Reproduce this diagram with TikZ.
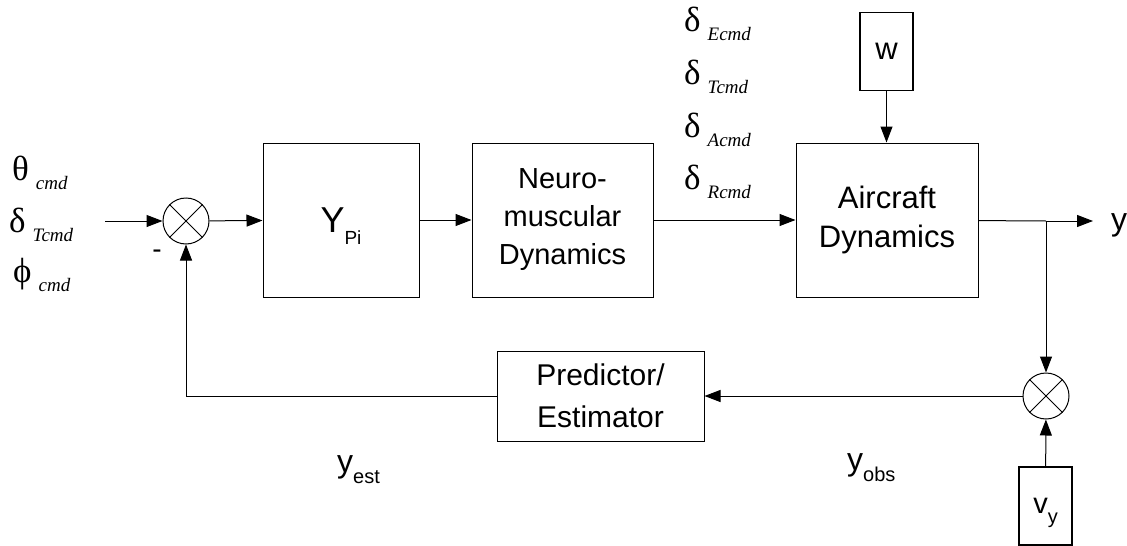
\documentclass[tikz,border=0pt]{standalone}
\usepackage{fontspec}
\setmainfont{Liberation Sans}
\newfontfamily\grkfont{Liberation Serif}
\usetikzlibrary{arrows.meta}

\newcommand{\cmdlabel}[2]{{\grkfont\fontsize{35}{35}\selectfont #1}\hspace{7pt}\raisebox{-9pt}{\grkfont\itshape\fontsize{19}{19}\selectfont #2}}

\begin{document}
\begin{tikzpicture}[x=1pt,y=-1pt,
    block/.style={draw, line width=1pt, inner sep=0pt, align=center, font=\fontsize{31}{39}\selectfont},
    srcblock/.style={draw, line width=1.8pt, inner sep=0pt, minimum width=53pt, minimum height=78pt},
    sumjunc/.style={draw, circle, line width=1pt, minimum size=46pt, inner sep=0pt},
    sig/.style={line width=1pt, -{Triangle[length=16pt,width=12pt]}},
    cmdtext/.style={inner sep=0pt, anchor=base west}]
\useasboundingbox (0,0) rectangle (1127,546);

% blocks
\node[block, minimum width=156pt, minimum height=154pt] (ypi) at (341,220) {\fontsize{36}{36}\selectfont Y\raisebox{-12pt}[0pt][0pt]{\fontsize{19}{19}\selectfont Pi}};
\node[block, minimum width=181pt, minimum height=154pt, font=\fontsize{29}{38}\selectfont] (neuro) at (562.5,220) {Neuro-\\muscular\\Dynamics};
\node[block, minimum width=182pt, minimum height=154pt] (plant) at (887,220) {Aircraft\\Dynamics};
\node[block, minimum width=207pt, minimum height=90pt, font=\fontsize{30}{42}\selectfont] (pred) at (600.5,396) {Predictor/\\Estimator};
\node[srcblock, font=\fontsize{31}{31}\selectfont] (wbox) at (886.5,51.5) {w};
\node[srcblock, font=\fontsize{29}{29}\selectfont] (vybox) at (1045.5,506) {v\raisebox{-10pt}[0pt][0pt]{\fontsize{20}{20}\selectfont y}};

% summing junctions
\node[sumjunc] (sumin) at (186,221) {};
\node[sumjunc] (sumobs) at (1046,396) {};
\foreach \s in {sumin,sumobs}
    \draw[line width=1pt] (\s.45) -- (\s.225) (\s.135) -- (\s.315);

% signals
\coordinate (in) at (105,221);
\coordinate (tap) at (1046,221);
\coordinate (out) at (1093,221);
\draw[sig] (in) -- (sumin);
\draw[sig] (sumin) -- (ypi);
\draw[sig] (ypi) -- (neuro);
\draw[sig] (neuro) -- (plant);
\draw[sig] (wbox) -- (wbox |- plant.north);
\draw[line width=1pt] (plant) -- (tap);
\draw[sig] (tap) -- (out);
\draw[sig] (tap) -- (sumobs);
\draw[sig] (vybox) -- (sumobs);
\draw[sig] (sumobs) -- (pred);
\draw[sig] (pred) -| (sumin);

% labels
\node[cmdtext] (thcmd) at (12,180) {\cmdlabel{θ}{cmd}};
\node[cmdtext] (dtcmd) at (9,232) {\cmdlabel{δ}{Tcmd}};
\node[cmdtext] (phcmd) at (13,282) {\cmdlabel{ϕ}{cmd}};
\foreach \sub/\yb [count=\i] in {Ecmd/31,Tcmd/84,Acmd/137,Rcmd/189}
    \node[cmdtext] (dcmd\i) at (684,\yb) {\cmdlabel{δ}{\sub}};
\node[font=\fontsize{28}{28}\selectfont] (minus) at (157,254) {-};
\node[cmdtext, font=\fontsize{32}{32}\selectfont] (ylbl) at (1111,230) {y};
\node[cmdtext, font=\fontsize{32}{32}\selectfont] (yest) at (337,472) {y\raisebox{-11pt}{\fontsize{20}{20}\selectfont est}};
\node[cmdtext, font=\fontsize{32}{32}\selectfont] (yobs) at (847,470) {y\raisebox{-11pt}{\fontsize{20}{20}\selectfont obs}};
\end{tikzpicture}
\end{document}
